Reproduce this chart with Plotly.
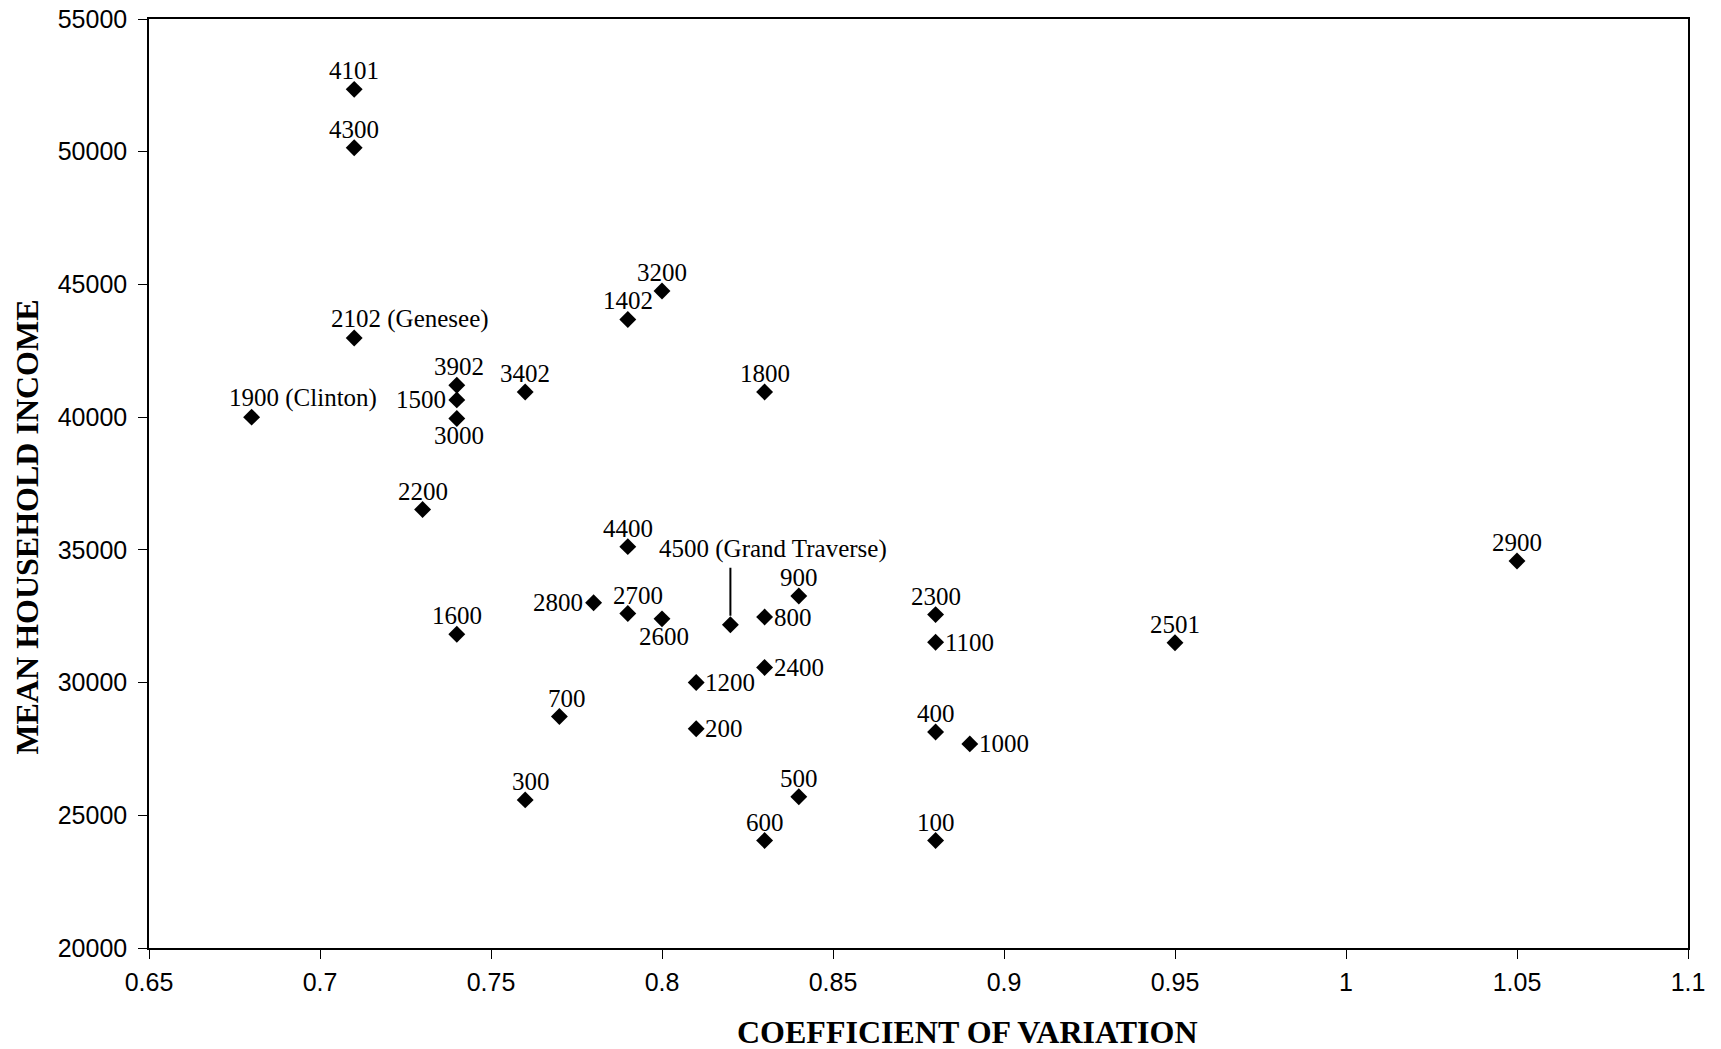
import plotly.graph_objects as go

# ---- data ----
labels = ["4101", "4300", "2102 (Genesee)", "1900 (Clinton)", "3902", "1500", "3000",
          "3402", "3200", "1402", "1800", "2200", "4400", "2900", "2800", "2700",
          "2600", "4500 (Grand Traverse)", "800", "900", "2300", "1100", "2501", "1600",
          "2400", "1200", "700", "200", "400", "1000", "500", "300", "600", "100"]
cv = [0.71, 0.71, 0.71, 0.68, 0.74, 0.74, 0.74,
      0.76, 0.80, 0.79, 0.83, 0.73, 0.79, 1.05, 0.78, 0.79,
      0.80, 0.82, 0.83, 0.84, 0.88, 0.88, 0.95, 0.74,
      0.83, 0.81, 0.77, 0.81, 0.88, 0.89, 0.84, 0.76, 0.83, 0.88]
income = [52350, 50150, 42980, 40000, 41200, 40650, 39950,
          40950, 44750, 43680, 40950, 36520, 35120, 34580, 33010, 32600,
          32400, 32180, 32470, 33260, 32560, 31520, 31500, 31820,
          30570, 30000, 28720, 28260, 28140, 27690, 25700, 25580, 24050, 24050]
x_ticks = [0.65, 0.7, 0.75, 0.8, 0.85, 0.9, 0.95, 1.0, 1.05, 1.1]
x_tick_text = ["0.65", "0.7", "0.75", "0.8", "0.85", "0.9", "0.95", "1", "1.05", "1.1"]
y_ticks = [20000, 25000, 30000, 35000, 40000, 45000, 50000, 55000]

# ---- label placement (style) ----
place = {
    "1500": "left", "2800": "left", "3000": "below", "2600": "below",
    "800": "right", "1100": "right", "1200": "right", "2400": "right",
    "200": "right", "1000": "right",
    "2102 (Genesee)": "suffix", "1900 (Clinton)": "suffix",
    "4500 (Grand Traverse)": "callout",
}
xnudge = {"2700": 10, "700": 8, "300": 6, "3902": 2}

serif = "Liberation Serif, Times New Roman, serif"
sans = "Liberation Sans, Arial, sans-serif"
lab_size = 25

fig = go.Figure()
fig.add_trace(go.Scatter(
    x=cv, y=income, mode="markers",
    marker=dict(symbol="diamond", size=13, color="black", line=dict(width=0)),
    hoverinfo="skip", showlegend=False,
))

ann = []
for lab, xv, yv in zip(labels, cv, income):
    p = place.get(lab, "above")
    a = dict(x=xv, y=yv, xref="x", yref="y", text=lab, showarrow=False,
             font=dict(family=serif, size=lab_size, color="black"))
    if p == "above":
        a.update(xanchor="center", yanchor="bottom", yshift=3, xshift=xnudge.get(lab, 0))
    elif p == "below":
        a.update(xanchor="center", yanchor="top", yshift=-2, xshift=2)
    elif p == "left":
        a.update(xanchor="right", yanchor="middle", xshift=-9)
    elif p == "right":
        a.update(xanchor="left", yanchor="middle", xshift=7)
    elif p == "suffix":
        a.update(xanchor="left", yanchor="bottom", yshift=3, xshift=-25)
    elif p == "callout":
        a.update(xanchor="left", yanchor="middle", yshift=76, xshift=-73)
        ann.append(dict(x=xv, y=yv, xref="x", yref="y", text=" ", showarrow=True,
                        ax=0, ay=-58, arrowhead=0, arrowwidth=2, arrowcolor="black",
                        standoff=9, font=dict(size=1), borderpad=0))
    ann.append(a)

# axis titles
ann.append(dict(x=0.532, y=-0.09, xref="paper", yref="paper", text="<b>COEFFICIENT OF VARIATION</b>",
                showarrow=False, xanchor="center", yanchor="middle",
                font=dict(family=serif, size=32, color="black")))
ann.append(dict(x=-0.079, y=0.453, xref="paper", yref="paper", text="<b>MEAN HOUSEHOLD INCOME</b>",
                showarrow=False, xanchor="center", yanchor="middle", textangle=-90,
                font=dict(family=serif, size=32, color="black")))

fig.update_layout(
    width=1721, height=1049,
    margin=dict(l=149, r=33, t=19, b=101, autoexpand=False),
    paper_bgcolor="white", plot_bgcolor="white",
    annotations=ann,
)
fig.update_xaxes(range=[0.65, 1.1], tickvals=x_ticks, ticktext=x_tick_text, automargin=False,
                 showgrid=False, zeroline=False, showline=True, linecolor="black", linewidth=1.5,
                 mirror=True, ticks="outside", ticklen=9, tickwidth=1.2, tickcolor="black",
                 tickfont=dict(family=sans, size=25, color="black"), ticklabelstandoff=2)
fig.update_yaxes(range=[20000, 55000], tickvals=y_ticks, ticktext=[str(v) for v in y_ticks],
                 automargin=False,
                 showgrid=False, zeroline=False, showline=True, linecolor="black", linewidth=1.5,
                 mirror=True, ticks="outside", ticklen=9, tickwidth=1.2, tickcolor="black",
                 tickfont=dict(family=sans, size=25, color="black"), ticklabelstandoff=6)

fig.write_html("out.html", config={"displayModeBar": False},
               post_script="document.body.style.margin='0px';document.body.style.overflow='hidden';")
